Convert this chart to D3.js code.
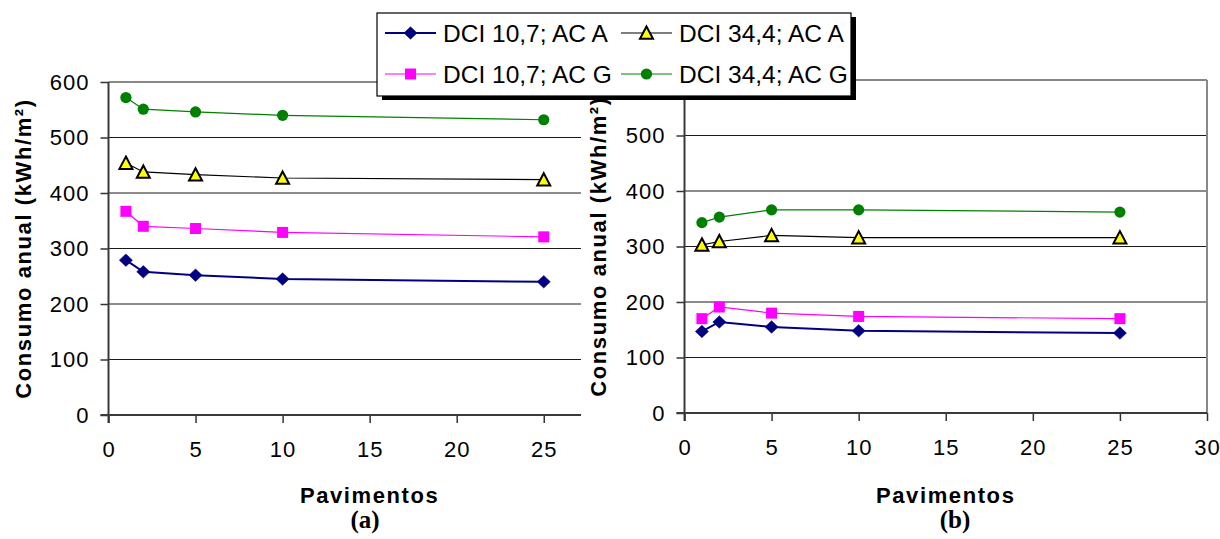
<!DOCTYPE html>
<html>
<head>
<meta charset="utf-8">
<script src="https://cdn.jsdelivr.net/npm/d3@7"></script>
<style>
  html, body { margin: 0; padding: 0; background: #fff; }
  svg { display: block; }
  text { font-family: Arial, "Liberation Sans", sans-serif; fill: #000; }
</style>
</head>
<body>
<svg id="chart" width="1220" height="539"></svg>
<script>
// ---------------- data ----------------
const pavimentos = [1, 2, 5, 10, 25];
const seriesNames = ["DCI 10,7; AC A", "DCI 34,4; AC A", "DCI 10,7; AC G", "DCI 34,4; AC G"];
// panel (a)
const a_dci107_acA = [279, 258, 252, 245, 240];
const a_dci344_acA = [454, 438, 433, 427, 424];
const a_dci107_acG = [367, 340, 336, 329, 321];
const a_dci344_acG = [572, 551, 546, 540, 532];
// panel (b)
const b_dci107_acA = [147, 164, 155, 148, 144];
const b_dci344_acA = [303, 309, 320, 316, 316];
const b_dci107_acG = [170, 191, 180, 174, 170];
const b_dci344_acG = [343, 353, 366, 366, 362];
const yTicks = [0, 100, 200, 300, 400, 500, 600];
const xTicksA = [0, 5, 10, 15, 20, 25];
const xTicksB = [0, 5, 10, 15, 20, 25, 30];
const yTitle = "Consumo anual (kWh/m²)";
const xTitle = "Pavimentos";

// ---------------- styles ----------------
const styles = [
  { color: "#000080", width: 2, marker: "diamond", fill: "#000080", stroke: "#000080" },
  { color: "#000000", width: 1.2, marker: "triangle", fill: "#FFFF00", stroke: "#000000" },
  { color: "#FF00FF", width: 1.2, marker: "square", fill: "#FF00FF", stroke: "#FF00FF" },
  { color: "#008000", width: 1.2, marker: "circle", fill: "#008000", stroke: "#008000" }
];

const svg = d3.select("#chart");

function drawMarker(g, type, x, y, st) {
  if (type === "diamond") {
    g.append("path").attr("d", d3.symbol(d3.symbolDiamond2, 100)())
      .attr("transform", `translate(${x},${y}) scale(1.05,1)`)
      .attr("fill", st.fill).attr("stroke", st.stroke).attr("stroke-width", 0.5);
  } else if (type === "triangle") {
    const s = 6.5;
    g.append("path").attr("d", `M${x},${y - s}L${x + s},${y + s * 0.9}L${x - s},${y + s * 0.9}Z`)
      .attr("fill", st.fill).attr("stroke", st.stroke).attr("stroke-width", 2).attr("stroke-linejoin", "miter");
  } else if (type === "square") {
    g.append("rect").attr("x", x - 5.5).attr("y", y - 5.5).attr("width", 11).attr("height", 11)
      .attr("fill", st.fill);
  } else {
    g.append("circle").attr("cx", x).attr("cy", y).attr("r", 5.6).attr("fill", st.fill);
  }
}

function panel(opts) {
  const { x0, x1, xDomainMax, xTicks, y0, y1, data, titleX, label, labelX, border } = opts;
  const xs = d3.scaleLinear().domain([0, xDomainMax]).range([x0, x1]);
  const ys = d3.scaleLinear().domain([0, 600]).range([y0, y1]);
  const g = svg.append("g");

  // gridlines
  g.selectAll("line.grid").data(yTicks.filter(v => v > 0 && v < 600)).enter().append("line")
    .attr("x1", x0).attr("x2", x1).attr("y1", d => ys(d)).attr("y2", d => ys(d))
    .attr("stroke", "#1a1a1a").attr("stroke-width", 1.2);
  // top border
  g.append("line").attr("x1", x0).attr("x2", x1).attr("y1", ys(600)).attr("y2", ys(600))
    .attr("stroke", "#888").attr("stroke-width", 2);
  if (border) {
    g.append("line").attr("x1", x1).attr("x2", x1).attr("y1", ys(600)).attr("y2", ys(0))
      .attr("stroke", "#888").attr("stroke-width", 2);
  }

  // y axis
  const yAxis = d3.axisLeft(ys).tickValues(yTicks).tickSize(8).tickSizeOuter(0).tickPadding(11);
  const ga = g.append("g").attr("transform", `translate(${x0},0)`).call(yAxis);
  ga.select(".domain").remove();
  ga.selectAll(".tick line").attr("stroke", "#333").attr("stroke-width", 1.5);
  ga.selectAll(".tick text").style("font-size", "22px").attr("letter-spacing", "1px")
    .style("font-family", "Arial, 'Liberation Sans', sans-serif").attr("fill", "#000");
  g.append("line").attr("x1", x0).attr("x2", x0).attr("y1", ys(600)).attr("y2", ys(0) + 8)
    .attr("stroke", "#3a3a3a").attr("stroke-width", 2);

  // x axis
  const xAxis = d3.axisBottom(xs).tickValues(xTicks).tickSize(8).tickSizeOuter(0).tickPadding(18);
  const gx = g.append("g").attr("transform", `translate(0,${y0})`).call(xAxis);
  gx.select(".domain").remove();
  gx.selectAll(".tick line").attr("stroke", "#333").attr("stroke-width", 1.5);
  gx.selectAll(".tick text").style("font-size", "22px").attr("letter-spacing", "1px")
    .style("font-family", "Arial, 'Liberation Sans', sans-serif").attr("fill", "#000");
  g.append("line").attr("x1", x0 - 8).attr("x2", x1).attr("y1", y0).attr("y2", y0)
    .attr("stroke", "#3a3a3a").attr("stroke-width", 2);

  // series
  data.forEach((vals, i) => {
    const st = styles[i];
    const pts = pavimentos.map((p, k) => [xs(p), ys(vals[k])]);
    g.append("path").attr("d", d3.line()(pts)).attr("fill", "none")
      .attr("stroke", st.color).attr("stroke-width", st.width);
    pts.forEach(p => drawMarker(g, st.marker, p[0], p[1], st));
  });

  // y title
  g.append("text").attr("transform", `translate(${titleX},${(y0 + y1) / 2}) rotate(-90)`)
    .attr("text-anchor", "middle").attr("dy", "0.36em")
    .style("font-size", "22px").style("font-weight", "bold").attr("letter-spacing", "1.6px")
    .text(yTitle);

  // x title
  const xMid = (xs(0) + xs(30)) / 2;
  g.append("text").attr("x", xMid).attr("y", 503).attr("text-anchor", "middle")
    .style("font-size", "22px").style("font-weight", "bold").attr("letter-spacing", "1.6px")
    .text(xTitle);
  g.append("text").attr("x", labelX).attr("y", 528).attr("text-anchor", "middle")
    .style("font-size", "25px").style("font-weight", "bold")
    .style("font-family", "'Liberation Serif', 'Times New Roman', serif")
    .text(label);
  return g;
}

// panel (a): axis extends to x = 30 but the picture is cropped at ~27.1
panel({
  x0: 108.5, x1: 581, xDomainMax: 30 * (581 - 108.5) / 522.3, xTicks: xTicksA,
  y0: 415, y1: 82,
  data: [a_dci107_acA, a_dci344_acA, a_dci107_acG, a_dci344_acG],
  titleX: 23, label: "(a)", labelX: 365, border: false
});

panel({
  x0: 684.5, x1: 1207, xDomainMax: 30, xTicks: xTicksB,
  y0: 413, y1: 80,
  data: [b_dci107_acA, b_dci344_acA, b_dci107_acG, b_dci344_acG],
  titleX: 598, label: "(b)", labelX: 955, border: true
});

// ---------------- legend ----------------
const lg = svg.append("g");
lg.append("rect").attr("x", 382).attr("y", 17).attr("width", 474).attr("height", 83).attr("fill", "#000");
lg.append("rect").attr("x", 377).attr("y", 13).attr("width", 474).attr("height", 83)
  .attr("fill", "#fff").attr("stroke", "#000").attr("stroke-width", 1.2);
const legendPos = [
  { lx: 385, ty: 33 }, { lx: 621, ty: 33 }, { lx: 385, ty: 74 }, { lx: 621, ty: 74 }
];
seriesNames.forEach((name, i) => {
  const st = styles[i];
  const p = legendPos[i];
  lg.append("line").attr("x1", p.lx).attr("x2", p.lx + 51).attr("y1", p.ty).attr("y2", p.ty)
    .attr("stroke", st.color).attr("stroke-width", st.width);
  drawMarker(lg, st.marker, p.lx + 25.5, p.ty, st);
  lg.append("text").attr("x", p.lx + 58).attr("y", p.ty).attr("dy", "0.36em")
    .style("font-size", "24.5px").text(name);
});
</script>
</body>
</html>
